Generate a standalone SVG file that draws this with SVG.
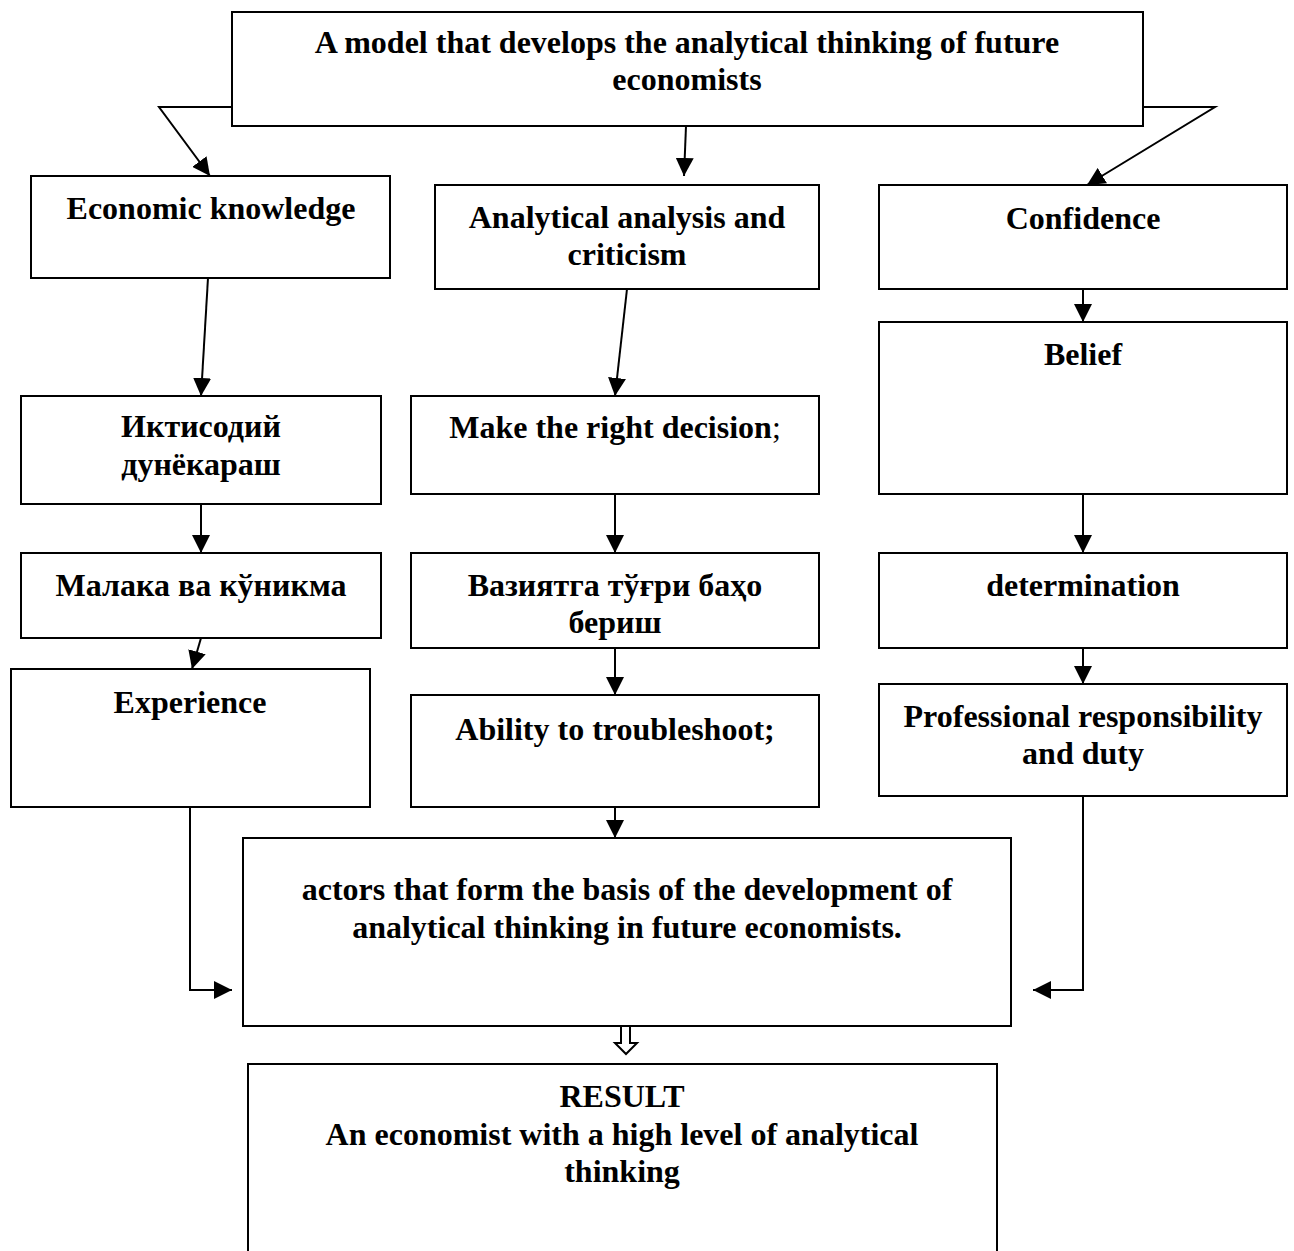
<svg xmlns="http://www.w3.org/2000/svg" width="1294" height="1251" viewBox="0 0 1294 1251">
<style>
.box{fill:#fff;stroke:#000;stroke-width:2}
.t{font-family:"Liberation Serif","Times New Roman",serif;font-weight:bold;font-size:32px;text-anchor:middle;fill:#000}
.c{fill:none;stroke:#000;stroke-width:2}
</style>
<defs>
<marker id="ahb" viewBox="0 0 10 10" refX="10" refY="5" markerWidth="18" markerHeight="18" markerUnits="userSpaceOnUse" orient="auto">
<path d="M0,0 L10,5 L0,10 z" fill="#000"/>
</marker>
</defs>
<rect width="1294" height="1251" fill="#fff"/>
<g id="connectors">
<path class="c" d="M232,107 L159,107 L210,176" marker-end="url(#ahb)"/>
<path class="c" d="M1143,107 L1215,107 L1087,185" marker-end="url(#ahb)"/>
<path class="c" d="M686,126 L684,176" marker-end="url(#ahb)"/>
<path class="c" d="M208,278 L201,396" marker-end="url(#ahb)"/>
<path class="c" d="M627,289 L615,396" marker-end="url(#ahb)"/>
<path class="c" d="M1083,289 L1083,322" marker-end="url(#ahb)"/>
<path class="c" d="M201,504 L201,553" marker-end="url(#ahb)"/>
<path class="c" d="M615,494 L615,553" marker-end="url(#ahb)"/>
<path class="c" d="M1083,494 L1083,553" marker-end="url(#ahb)"/>
<path class="c" d="M201,638 L192,669" marker-end="url(#ahb)"/>
<path class="c" d="M615,648 L615,695" marker-end="url(#ahb)"/>
<path class="c" d="M1083,648 L1083,684" marker-end="url(#ahb)"/>
<path class="c" d="M615,807 L615,838" marker-end="url(#ahb)"/>
<path class="c" d="M190,807 L190,990 L232,990" marker-end="url(#ahb)"/>
<path class="c" d="M1083,796 L1083,990 L1033,990" marker-end="url(#ahb)"/>
<path d="M621,1026 L630,1026 L630,1043 L637,1043 L626,1054 L615,1043 L621,1043 Z" fill="#fff" stroke="#000" stroke-width="2"/>
</g>
<g id="n-top"><rect class="box" x="232" y="12" width="911" height="114"/>
<text class="t" x="687" y="53">A model that develops the analytical thinking of future</text>
<text class="t" x="687" y="90">economists</text></g>
<g id="n-econ"><rect class="box" x="31" y="176" width="359" height="102"/>
<text class="t" x="211" y="219">Economic knowledge</text></g>
<g id="n-anal"><rect class="box" x="435" y="185" width="384" height="104"/>
<text class="t" x="627" y="228">Analytical analysis and</text>
<text class="t" x="627" y="265">criticism</text></g>
<g id="n-conf"><rect class="box" x="879" y="185" width="408" height="104"/>
<text class="t" x="1083" y="229">Confidence</text></g>
<g id="n-ikt"><rect class="box" x="21" y="396" width="360" height="108"/>
<text class="t" x="201" y="437">Иктисодий</text>
<text class="t" x="201" y="475">дунёкараш</text></g>
<g id="n-make"><rect class="box" x="411" y="396" width="408" height="98"/>
<text class="t" x="615" y="438">Make the right decision<tspan font-weight="normal">;</tspan></text></g>
<g id="n-belief"><rect class="box" x="879" y="322" width="408" height="172"/>
<text class="t" x="1083" y="365">Belief</text></g>
<g id="n-malaka"><rect class="box" x="21" y="553" width="360" height="85"/>
<text class="t" x="201" y="596">Малака ва кўникма</text></g>
<g id="n-vaz"><rect class="box" x="411" y="553" width="408" height="95"/>
<text class="t" x="615" y="596">Вазиятга тўғри баҳо</text>
<text class="t" x="615" y="633">бериш</text></g>
<g id="n-det"><rect class="box" x="879" y="553" width="408" height="95"/>
<text class="t" x="1083" y="596">determination</text></g>
<g id="n-exp"><rect class="box" x="11" y="669" width="359" height="138"/>
<text class="t" x="190" y="713">Experience</text></g>
<g id="n-abil"><rect class="box" x="411" y="695" width="408" height="112"/>
<text class="t" x="615" y="740">Ability to troubleshoot;</text></g>
<g id="n-prof"><rect class="box" x="879" y="684" width="408" height="112"/>
<text class="t" x="1083" y="727">Professional responsibility</text>
<text class="t" x="1083" y="764">and duty</text></g>
<g id="n-actors"><rect class="box" x="243" y="838" width="768" height="188"/>
<text class="t" x="627" y="900">actors that form the basis of the development of</text>
<text class="t" x="627" y="938">analytical thinking in future economists.</text></g>
<g id="n-result"><path class="c" d="M248,1260 L248,1064 L997,1064 L997,1260"/>
<text class="t" x="622" y="1107">RESULT</text>
<text class="t" x="622" y="1145">An economist with a high level of analytical</text>
<text class="t" x="622" y="1182">thinking</text></g>
</svg>
